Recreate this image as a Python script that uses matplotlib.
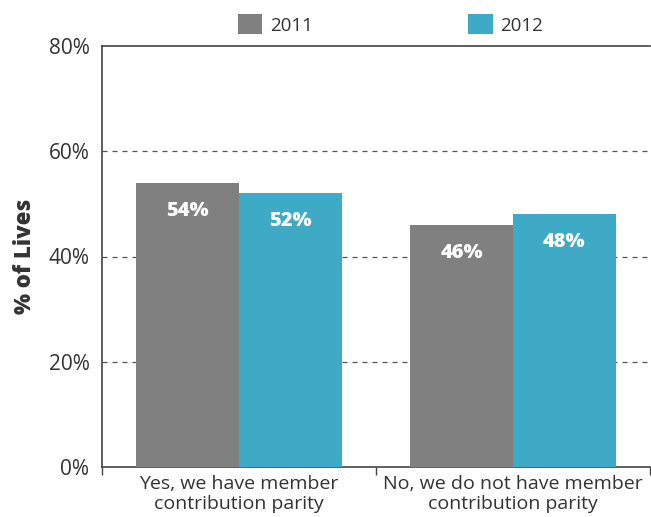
import matplotlib.pyplot as plt
import numpy as np

plt.rcParams['font.family'] = ['Open Sans', 'DejaVu Sans']

categories = ['Yes, we have member\ncontribution parity',
              'No, we do not have member\ncontribution parity']
years = ['2011', '2012']
values_2011 = [54, 46]
values_2012 = [52, 48]
yticks = [0, 20, 40, 60, 80]

colors = ['#808080', '#3eaac6']
text_color = '#333333'

fig = plt.figure(figsize=(6.51, 5.17), dpi=100)
ax = fig.add_axes([102 / 651, 50 / 517, 548 / 651, 421 / 517])

x = np.arange(len(categories))
width = 0.375
series = [values_2011, values_2012]
handles = []
for i, vals in enumerate(series):
    offs = x + (i - 0.5) * width
    b = ax.bar(offs, vals, width=width, color=colors[i], zorder=3, label=years[i])
    handles.append(b)
    # value labels sit inside the top of each bar
    for xo, v in zip(offs, vals):
        ax.text(xo, v - 5.3, f'{v}%', ha='center', va='center', color='white',
                fontsize=14.5, fontweight='heavy', zorder=4)

ax.set_xlim(-0.5, 1.5)
ax.set_ylim(0, 80)
ax.set_yticks(yticks)
ax.set_yticklabels([f'{t}%' for t in yticks], fontsize=15, color=text_color)
ax.set_xticks(x)
ax.set_xticklabels(categories, fontsize=14, color=text_color, linespacing=1.1)
ax.set_xticks([-0.5, 0.5, 1.5], minor=True)
ax.tick_params(axis='x', which='major', length=0, pad=6)
ax.tick_params(axis='x', which='minor', length=6, color='#444444', width=1)
ax.tick_params(axis='y', length=0, pad=9)

for y in yticks[1:-1]:
    ax.axhline(y, color='#555555', linestyle=(0, (4, 4)), linewidth=0.9, zorder=1)

for side in ['left', 'bottom', 'top']:
    ax.spines[side].set_color('#444444')
    ax.spines[side].set_linewidth(1.2)
ax.spines['right'].set_visible(False)

ax.set_ylabel('% of Lives', fontsize=16, fontweight='heavy', color=text_color, labelpad=8)

fig.legend(handles=handles, labels=years, loc='center', bbox_to_anchor=(0.6, 0.953),
           ncol=2, frameon=False, fontsize=13.5, handlelength=1.3, handleheight=1.3,
           columnspacing=8.3, handletextpad=0.4, labelcolor=text_color)

fig.savefig('out.png', dpi=100)
